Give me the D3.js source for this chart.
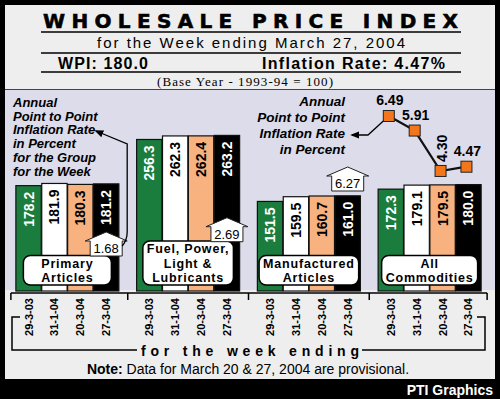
<!DOCTYPE html>
<html>
<head>
<meta charset="utf-8">
<script src="https://cdn.jsdelivr.net/npm/d3@7"></script>
<style>
  body { margin: 0; background: #000; }
  svg { display: block; font-family: "Liberation Sans", Arial, sans-serif; }
</style>
</head>
<body>
<script>
const groups = ["Primary Articles", "Fuel, Power, Light & Lubricants", "Manufactured Articles", "All Commodities"];
const groupLabelLines = [["Primary", "Articles"], ["Fuel, Power,", "Light &", "Lubricants"], ["Manufactured", "Articles"], ["All", "Commodities"]];
const weeks = ["29-3-03", "31-1-04", "20-3-04", "27-3-04"];
const primaryArticles = [178.2, 181.9, 180.3, 181.2];
const fuelPower = [256.3, 262.3, 262.4, 263.2];
const manufacturedArticles = [151.5, 159.5, 160.7, 161.0];
const allCommodities = [172.3, 179.1, 179.5, 180.0];
const groupInflation = [1.68, 2.69, 6.27];        // shown in the up-arrows, last week
const wpiInflation = [6.49, 5.91, 4.30, 4.47];    // all commodities, per week
const weekColors = ["#1b7d3d", "#ffffff", "#f7b27f", "#000000"];
const weekTextColors = ["#fff", "#000", "#000", "#fff"];

const seriesByGroup = [primaryArticles, fuelPower, manufacturedArticles, allCommodities];

const W = 500, H = 399;
const svg = d3.select("body").append("svg").attr("width", W).attr("height", H);

// frame and panels
svg.append("rect").attr("width", W).attr("height", H).attr("fill", "#000");
svg.append("rect").attr("x", 5).attr("y", 5).attr("width", 490).attr("height", 374).attr("fill", "#eeeeee");
svg.append("rect").attr("x", 5).attr("y", 90).attr("width", 490).attr("height", 200).attr("fill", "#dcdcea");
svg.append("line").attr("x1", 5).attr("x2", 495).attr("y1", 89.5).attr("y2", 89.5)
  .attr("stroke", "#444").attr("stroke-width", 1);

/*--------------------------------------------------------------------------*/
// header

svg.append("text")
  .attr("x", 43).attr("y", 28)
  .attr("textLength", 415).attr("lengthAdjust", "spacing")
  .attr("stroke", "#000").attr("stroke-width", 0.6)
  .style("font-family", "'DejaVu Sans', sans-serif")
  .style("font-weight", "bold").style("font-size", "20px")
  .text("WHOLESALE PRICE INDEX");

[32, 53, 72].forEach(y =>
  svg.append("line").attr("x1", 41).attr("x2", 461).attr("y1", y).attr("y2", y)
    .attr("stroke", "#000").attr("stroke-width", 1.5));

svg.append("text")
  .attr("x", 97).attr("y", 48)
  .attr("textLength", 308).attr("lengthAdjust", "spacing")
  .style("font-size", "15px")
  .text("for the Week ending March 27, 2004");

svg.append("text")
  .attr("x", 58).attr("y", 69)
  .attr("textLength", 90).attr("lengthAdjust", "spacing")
  .style("font-size", "16px").style("font-weight", "bold")
  .text("WPI: 180.0");

svg.append("text")
  .attr("x", 262).attr("y", 69)
  .attr("textLength", 183).attr("lengthAdjust", "spacing")
  .style("font-size", "16px").style("font-weight", "bold")
  .text("Inflation Rate: 4.47%");

svg.append("text")
  .attr("x", 157).attr("y", 86)
  .attr("textLength", 176).attr("lengthAdjust", "spacing")
  .style("font-family", "'Liberation Serif', serif")
  .style("font-size", "13px")
  .text("(Base Year - 1993-94 = 100)");

/*--------------------------------------------------------------------------*/
// scales

const x0 = d3.scaleBand().domain(groups).range([7, 490])
  .paddingInner(0.147).paddingOuter(0.0735);
const x1 = d3.scaleBand().domain(weeks).range([0, x0.bandwidth()]).paddingInner(0.02);
const y = d3.scaleLinear().domain([0, 340]).range([291, 90]);
/** position of the group inflation arrows */
const yGroupInfl = d3.scaleLinear().domain([0, 8]).range([279.8, 166.5]);
/** WPI inflation line */
const yInfl = d3.scaleLinear().domain([4, 7]).range([178.5, 103.2]);

const barCx = (gi, wi) => x0(groups[gi]) + x1(weeks[wi]) + x1.bandwidth() / 2;

/*--------------------------------------------------------------------------*/
// bars

let gGroups = svg.selectAll("g.group")
  .data(groups)
  .enter()
  .append("g")
  .attr("class", "group")
  .attr("transform", d => "translate(" + x0(d) + ",0)");

gGroups.selectAll("rect.bar")
  .data((d, gi) => seriesByGroup[gi].map((v, wi) => ({ v, wi })))
  .enter()
  .append("rect")
  .attr("class", "bar")
  .attr("x", d => x1(weeks[d.wi]))
  .attr("y", d => y(d.v))
  .attr("width", x1.bandwidth())
  .attr("height", d => y(0) - y(d.v))
  .attr("fill", d => weekColors[d.wi])
  .attr("stroke", "#111")
  .attr("stroke-width", 1.2);

gGroups.selectAll("text.value")
  .data((d, gi) => seriesByGroup[gi].map((v, wi) => ({ v, wi })))
  .enter()
  .append("text")
  .attr("class", "value")
  .attr("transform", d => "translate(" + (x1(weeks[d.wi]) + x1.bandwidth() / 2) + "," + (y(d.v) + 6) + ") rotate(-90)")
  .attr("text-anchor", "end")
  .attr("dy", "0.36em")
  .attr("fill", d => weekTextColors[d.wi])
  .style("font-size", "14px").style("font-weight", "bold")
  .text(d => d.v.toFixed(1));

// group name boxes
gGroups.each(function (d, gi) {
  let g = d3.select(this),
    lines = groupLabelLines[gi],
    cx = x0.bandwidth() / 2,
    lineH = 14.5,
    lastBase = 282,
    firstBase = lastBase - lineH * (lines.length - 1);
  let box = g.append("rect");
  let t = g.append("text")
    .attr("text-anchor", "middle")
    .style("font-size", "12.5px").style("font-weight", "bold")
    .style("letter-spacing", "0.8px");
  lines.forEach((s, i) =>
    t.append("tspan").attr("x", cx).attr("y", firstBase + lineH * i).text(s));
  let tw = t.node().getBBox().width,
    bw = Math.max(88, tw + 8);
  box.attr("x", cx - bw / 2).attr("y", firstBase - 12)
    .attr("width", bw).attr("height", lastBase + 3 - (firstBase - 12))
    .attr("rx", 7)
    .attr("fill", "#fff").attr("stroke", "#000").attr("stroke-width", 1.5);
});

/*--------------------------------------------------------------------------*/
// up-arrows holding the group inflation rate

let arrows = [];
groupInflation.forEach((v, gi) => {
  let cx = barCx(gi, 3), bottom = yGroupInfl(v);
  arrows.push({ cx, bottom });
  let path = d3.path();
  path.moveTo(cx - 16, bottom);
  path.lineTo(cx - 16, bottom - 15);
  path.lineTo(cx - 21, bottom - 15);
  path.lineTo(cx, bottom - 24);
  path.lineTo(cx + 21, bottom - 15);
  path.lineTo(cx + 16, bottom - 15);
  path.lineTo(cx + 16, bottom);
  path.closePath();
  svg.append("path").attr("d", path.toString())
    .attr("fill", "#fff").attr("stroke", "#222").attr("stroke-width", 1);
  svg.append("text")
    .attr("x", cx).attr("y", bottom - 3)
    .attr("text-anchor", "middle")
    .style("font-size", "13px")
    .text(v.toFixed(2));
});

/*--------------------------------------------------------------------------*/
// annotations

svg.append("defs").append("marker")
  .attr("id", "head")
  .attr("viewBox", "0 0 10 10").attr("refX", 8).attr("refY", 5)
  .attr("markerWidth", 7).attr("markerHeight", 7)
  .attr("orient", "auto-start-reverse")
  .append("path").attr("d", "M0,1 L10,5 L0,9 Z").attr("fill", "#000");

let leftNote = svg.append("text")
  .style("font-size", "13px").style("font-weight", "bold").style("font-style", "italic");
["Annual", "Point to Point", "Inflation Rate", "in Percent", "for the Group", "for the Week"]
  .forEach((s, i) => leftNote.append("tspan").attr("x", 13).attr("y", 107 + 13.7 * i).text(s));

let a0 = arrows[0];
svg.append("path")
  .attr("d", "M" + (a0.cx + 16) + "," + (a0.bottom - 10) +
    " Q" + (a0.cx + 21) + "," + (a0.bottom - 16) + " " + (a0.cx + 21) + "," + (a0.bottom - 24) +
    " L" + (a0.cx + 21) + ",144 L96,131")
  .attr("fill", "none").attr("stroke", "#000").attr("stroke-width", 1.3)
  .attr("marker-end", "url(#head)");

let rightNote = svg.append("text")
  .attr("text-anchor", "end")
  .style("font-size", "13.5px").style("font-weight", "bold").style("font-style", "italic");
["Annual", "Point to Point", "Inflation Rate", "in Percent"]
  .forEach((s, i) => rightNote.append("tspan").attr("x", 345).attr("y", 106 + 16 * i).text(s));

/*--------------------------------------------------------------------------*/
// WPI inflation line over "All Commodities"

const last = groups.length - 1;
let pts = wpiInflation.map((v, wi) => ({ v, wi, x: barCx(last, wi) - 2, y: yInfl(v) }));

svg.append("path")
  .attr("d", "M" + pts[0].x + "," + pts[0].y + " L368,135 L352,135")
  .attr("fill", "none").attr("stroke", "#000").attr("stroke-width", 1.3)
  .attr("marker-end", "url(#head)");

svg.append("path")
  .attr("d", d3.line().x(d => d.x).y(d => d.y)(pts))
  .attr("fill", "none").attr("stroke", "#111").attr("stroke-width", 2.2);

svg.selectAll("rect.infl")
  .data(pts)
  .enter()
  .append("rect")
  .attr("class", "infl")
  .attr("x", d => d.x - 5.5).attr("y", d => d.y - 5.5)
  .attr("width", 11).attr("height", 11)
  .attr("fill", "#f2761b").attr("stroke", "#222").attr("stroke-width", 1);

svg.selectAll("text.infl")
  .data(pts)
  .enter()
  .append("text")
  .attr("class", "infl")
  .attr("transform", d => d.wi === 2
    ? "translate(" + (d.x + 1) + "," + (d.y - 9) + ") rotate(-90)"
    : "translate(" + (d.x + 1) + "," + (d.y - 11) + ")")
  .attr("text-anchor", d => d.wi === 2 ? "start" : "middle")
  .attr("dy", d => d.wi === 2 ? "0.36em" : 0)
  .style("font-size", "14px").style("font-weight", "bold")
  .text(d => d.v.toFixed(2));

/*--------------------------------------------------------------------------*/
// week axis

let step = x0.step(), gap = step * x0.paddingInner();
let tickX = groups.map((g, i) => i === 0 ? x0(g) - 5 : x0(g) - gap / 2);
tickX.push(x0(groups[last]) + x0.bandwidth() + 6);

svg.append("line")
  .attr("x1", tickX[0]).attr("x2", tickX[tickX.length - 1])
  .attr("y1", 293).attr("y2", 293)
  .attr("stroke", "#000").attr("stroke-width", 1.5);
svg.selectAll("line.tick")
  .data(tickX)
  .enter()
  .append("line")
  .attr("class", "tick")
  .attr("x1", d => d).attr("x2", d => d)
  .attr("y1", 293).attr("y2", 300)
  .attr("stroke", "#000").attr("stroke-width", 1.5);

groups.forEach((g, gi) => {
  svg.selectAll(null)
    .data(weeks)
    .enter()
    .append("text")
    .attr("transform", (w, wi) => "translate(" + barCx(gi, wi) + ",298) rotate(-90)")
    .attr("text-anchor", "end")
    .attr("dy", "0.36em")
    .style("font-size", "11px").style("font-weight", "bold")
    .text(w => w);
});

// bracket with caption
svg.append("path")
  .attr("d", "M20,317 H12 V350 H137 M362,350 H485 V317 H477")
  .attr("fill", "none").attr("stroke", "#000").attr("stroke-width", 1.5);

svg.append("text")
  .attr("x", 141).attr("y", 356)
  .attr("textLength", 218).attr("lengthAdjust", "spacing")
  .style("font-size", "14px").style("font-weight", "bold")
  .text("for the week ending");

let note = svg.append("text")
  .attr("x", 248).attr("y", 374)
  .attr("text-anchor", "middle")
  .style("font-size", "14px");
note.append("tspan").style("font-weight", "bold").text("Note:");
note.append("tspan").text(" Data for March 20 & 27, 2004 are provisional.");

svg.append("text")
  .attr("x", 493).attr("y", 395)
  .attr("text-anchor", "end")
  .attr("fill", "#fff")
  .style("font-size", "14px").style("font-weight", "bold")
  .text("PTI Graphics");
</script>
</body>
</html>
